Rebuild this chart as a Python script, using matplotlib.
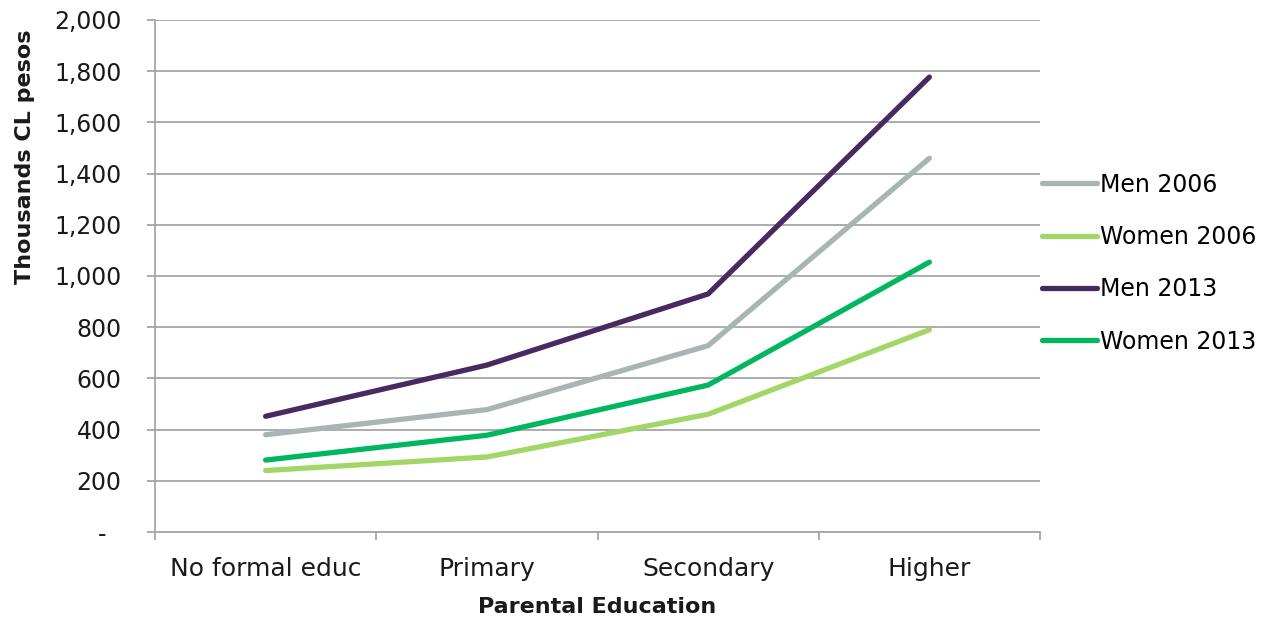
import numpy as np
from matplotlib import pyplot as plt
from matplotlib.ticker import FuncFormatter

categories = ["No formal educ", "Primary", "Secondary", "Higher"]
men_2006 = [380, 478, 728, 1460]
women_2006 = [240, 293, 460, 790]
men_2013 = [452, 652, 930, 1777]
women_2013 = [281, 378, 574, 1054]

series = [
    ("Men 2006", men_2006, "#a7b6b4"),
    ("Women 2006", women_2006, "#a3d667"),
    ("Men 2013", men_2013, "#472a5f"),
    ("Women 2013", women_2013, "#00b65f"),
]

plt.rcParams['font.family'] = ['DejaVu Sans']
grid_col = "#a6a6a6"
txt_col = "#1a1a1a"

fig = plt.figure(figsize=(12.74, 6.23), dpi=100)
ax = fig.add_axes([155 / 1274, 1 - 532 / 623, (1040 - 155) / 1274, (532 - 20) / 623])

x = np.arange(len(categories))
for name, vals, col in series:
    ax.plot(x, vals, color=col, lw=3.8, label=name, solid_capstyle='round')

ax.set_xlim(-0.5, len(categories) - 0.5)
ax.set_ylim(0, 2000)
ax.set_yticks(np.arange(0, 2001, 200))
ax.yaxis.set_major_formatter(FuncFormatter(lambda v, p: "-  " if v == 0 else f"{int(v):,}"))
ax.grid(axis='y', color=grid_col, lw=1.3)
ax.set_axisbelow(True)

ax.set_xticks(x)
ax.set_xticklabels(categories)
ax.set_xticks(np.arange(-0.5, len(categories)), minor=True)
ax.tick_params(axis='x', which='major', length=0, pad=18, labelsize=18, labelcolor=txt_col)
ax.tick_params(axis='x', which='minor', length=6, width=1.3, color=grid_col)
ax.tick_params(axis='y', length=6, width=1.3, color=grid_col, pad=18, labelsize=17, labelcolor=txt_col)

for s in ['top', 'right']:
    ax.spines[s].set_visible(False)
for s in ['left', 'bottom']:
    ax.spines[s].set_color(grid_col)
    ax.spines[s].set_linewidth(1.3)

ax.set_xlabel("Parental Education", fontsize=16, fontweight='bold', color=txt_col)
ax.xaxis.set_label_coords(0.5, -(607 - 532) / 512, transform=ax.transAxes)
ax.xaxis.label.set_va('center')
ax.set_ylabel("Thousands CL pesos", fontsize=16, fontweight='bold', color=txt_col)
ax.yaxis.set_label_coords((25 - 155) / 885, (532 - 157) / 512, transform=ax.transAxes)
ax.yaxis.label.set_va('center')

ax.legend(loc='center left', bbox_to_anchor=(1.002, 0.525), frameon=False, fontsize=17,
          handlelength=2.35, handletextpad=0.1, labelspacing=1.2, borderaxespad=0,
          borderpad=0)

fig.savefig("out.png")
